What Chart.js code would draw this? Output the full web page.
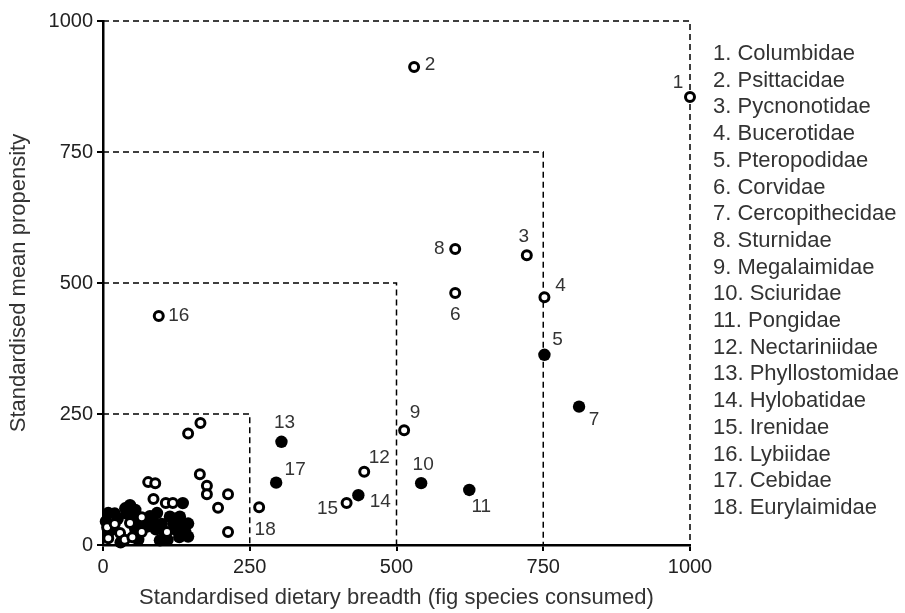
<!DOCTYPE html>
<html>
<head>
<meta charset="utf-8">
<title>Fig consumers</title>
<script src="https://cdn.jsdelivr.net/npm/chart.js@4.4.1/dist/chart.umd.min.js"></script>
<style>
  html, body { margin: 0; padding: 0; background: #fff; }
  #wrap { position: relative; width: 905px; height: 613px; }
</style>
</head>
<body>
<div id="wrap"><canvas id="scatterChart"></canvas></div>
<script>
// numbered families (legend order)
const families = ['Columbidae', 'Psittacidae', 'Pycnonotidae', 'Bucerotidae', 'Pteropodidae', 'Corvidae',
  'Cercopithecidae', 'Sturnidae', 'Megalaimidae', 'Sciuridae', 'Pongidae', 'Nectariniidae',
  'Phyllostomidae', 'Hylobatidae', 'Irenidae', 'Lybiidae', 'Cebidae', 'Eurylaimidae'];
const familyX = [1000, 530, 722, 752, 752, 600, 811, 600, 513, 542, 624, 445, 304, 435, 415, 95, 295, 266];
const familyY = [855, 912, 553, 473, 363, 481, 264, 565, 219, 118, 105, 140, 197, 95, 80, 437, 119, 72];
const familyFilled = [false, false, false, false, true, false, true, false, false, true, true, false, true, true, false, false, true, false];

// unnamed families (the crowd near the origin)
const otherOpenX = [145, 166, 165, 77, 89, 86, 107, 119, 177, 177, 213, 196, 213, 7, 9, 29, 37, 46, 66, 66, 109, 50, 20];
const otherOpenY = [213, 233, 135, 120, 118, 88, 80, 80, 113, 97, 97, 71, 25, 34, 13, 23, 10, 42, 53, 25, 25, 15, 40];
const otherFilledX = [136, 9, 38, 46, 55, 92, 97, 114, 120, 125, 131, 145, 145, 135, 5, 15, 25, 30, 50, 55, 75, 80,
  100, 105, 90, 20, 60, 110, 130, 140, 85, 65, 40, 10];
const otherFilledY = [80, 61, 70, 76, 67, 61, 9, 54, 41, 29, 54, 41, 16, 35, 45, 30, 50, 5, 50, 30, 35, 55,
  40, 25, 30, 60, 10, 10, 15, 25, 45, 40, 60, 25];

// dashed threshold boxes
const boxSizes = [250, 500, 750, 1000];
const axisTicks = [0, 250, 500, 750, 1000];

// label offsets in px from each numbered point
const labelOffsets = [[-12, -14], [16, -2], [-3, -18], [16, -11], [13, -15], [0, 22], [15, 13], [-16, 0], [11, -17],
  [2, -18], [12, 17], [15, -14], [3, -19], [22, 7], [-19, 6], [20, 0], [19, -13], [6, 22]];

const FONT = '"Liberation Sans", Arial, Helvetica, sans-serif';
Chart.defaults.font.family = FONT;
Chart.defaults.color = '#222';

const toPoints = (xs, ys) => xs.map((x, i) => ({ x, y: ys[i] }));

const openStyle = { pointRadius: 4.5, pointBorderWidth: 3, pointBackgroundColor: '#fff', pointBorderColor: '#000' };
const filledStyle = { pointRadius: 6.2, pointBorderWidth: 0, pointBackgroundColor: '#000', pointBorderColor: '#000' };

const datasets = [
  {
    label: 'families',
    data: toPoints(familyX, familyY),
    pointRadius: (c) => familyFilled[c.dataIndex] ? 6.2 : 4.5,
    pointBorderWidth: (c) => familyFilled[c.dataIndex] ? 0 : 3,
    pointBackgroundColor: (c) => familyFilled[c.dataIndex] ? '#000' : '#fff',
    pointBorderColor: '#000',
    showLine: false,
    clip: false,
  },
  { label: 'other open', data: toPoints(otherOpenX, otherOpenY), showLine: false, clip: false, ...openStyle },
  { label: 'other filled', data: toPoints(otherFilledX, otherFilledY), showLine: false, clip: false, ...filledStyle },
  ...boxSizes.map((s) => ({
    label: 'box ' + s,
    data: [{ x: 0, y: s }, { x: s, y: s }, { x: s, y: 0 }],
    showLine: true,
    pointRadius: 0,
    borderColor: '#000',
    borderWidth: 1.5,
    borderDash: [6, 4],
    fill: false,
    clip: false,
  })),
];

const annotate = {
  id: 'annotate',
  afterDatasetsDraw(chart) {
    const { ctx, chartArea } = chart;
    const meta = chart.getDatasetMeta(0);
    ctx.save();
    ctx.fillStyle = '#333';
    ctx.font = '19px ' + FONT;
    ctx.textAlign = 'center';
    ctx.textBaseline = 'middle';
    meta.data.forEach((pt, i) => {
      const [dx, dy] = labelOffsets[i];
      ctx.fillText(String(i + 1), pt.x + dx, pt.y + dy);
    });
    ctx.font = '22px ' + FONT;
    ctx.textAlign = 'left';
    families.forEach((name, i) => {
      ctx.fillText(`${i + 1}. ${name}`, chartArea.right + 23, chartArea.top + 33 + i * 26.7);
    });
    ctx.restore();
  },
};

function axis(title, fit) {
  return {
    type: 'linear',
    min: 0,
    max: 1000,
    afterBuildTicks: (s) => { s.ticks = axisTicks.map((v) => ({ value: v })); },
    afterFit: fit,
    grid: { drawOnChartArea: false, drawTicks: true, tickLength: 6, color: '#000', lineWidth: 2 },
    border: { color: '#000', width: 2.5 },
    ticks: { color: '#222', font: { size: 20 }, padding: 4, maxRotation: 0, callback: (v) => String(v) },
    title: { display: true, text: title, color: '#333', font: { size: 22 }, padding: { top: 6, bottom: 2 } },
  };
}

new Chart(document.getElementById('scatterChart'), {
  type: 'scatter',
  data: { datasets },
  options: {
    responsive: true,
    maintainAspectRatio: false,
    animation: false,
    events: [],
    layout: { padding: { top: 21, right: 215, bottom: 0, left: 0 } },
    plugins: { legend: { display: false }, tooltip: { enabled: false } },
    scales: {
      x: axis('Standardised dietary breadth (fig species consumed)', (s) => { s.height = 68; }),
      y: axis('Standardised mean propensity', (s) => { s.width = 103; }),
    },
  },
  plugins: [annotate],
});
</script>
</body>
</html>
